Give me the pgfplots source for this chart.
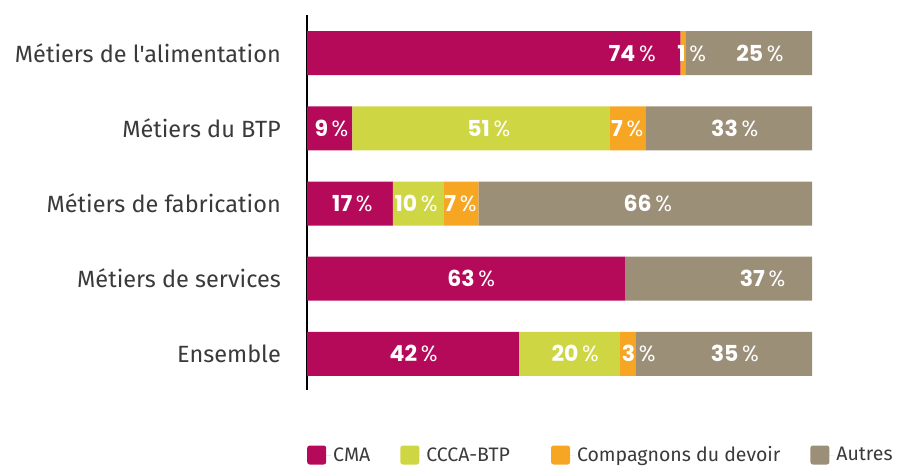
\documentclass[border=0pt]{standalone}
\usepackage{pgfplots}
\pgfplotsset{compat=1.18}
\usepackage{fontspec}
\setmainfont{Fira Sans}
\newfontfamily\catfont{Fira Sans}
\newfontfamily\numfont{Poppins}
\definecolor{cma}{HTML}{B5095A}
\definecolor{ccca}{HTML}{CFD643}
\definecolor{comp}{HTML}{F6A623}
\definecolor{autres}{HTML}{9C8F78}
\definecolor{txt}{HTML}{3A3A3A}
\newcommand\pct[1]{\textcolor{white}{\numfont\fontsize{22bp}{22bp}\selectfont\textbf{#1}\,\%}}
\pgfplotsset{sqlegend/.style={legend image code/.code={\fill[##1, rounded corners=2.5bp] (0bp,-9.5bp) rectangle (19bp,9.5bp); \path (0bp,0bp) -- (24bp,0bp);}}}
\begin{document}
\begin{tikzpicture}
\useasboundingbox (0,0) rectangle (897bp,466bp);
\begin{axis}[
  at={(307bp,76bp)}, anchor=south west,
  scale only axis, width=505bp, height=375bp,
  xmin=0, xmax=100, ymin=-0.507, ymax=4.48, y dir=reverse,
  bar width=44bp,
  axis x line=none, axis y line=left,
  y axis line style={-, line width=1.5bp, black},
  ytick={0,1,2,3,4},
  yticklabels={M\'etiers de l'alimentation, M\'etiers du BTP, M\'etiers de fabrication, M\'etiers de services, Ensemble},
  major tick length=0pt, ytick style={draw=none},
  yticklabel style={font=\catfont\fontsize{23.5bp}{26bp}\selectfont, text=txt, inner sep=0pt, xshift=-26bp},
  legend style={at={(axis description cs:0,0)}, anchor=west, yshift=-65bp, draw=none, fill=none, inner sep=0pt,
    font=\catfont\fontsize{19.5bp}{22bp}\selectfont, text=txt},
  legend columns=-1,
]
\addplot[xbar stacked, sqlegend, fill=cma, draw=none] coordinates {(74,0) (9,1) (17,2) (63,3) (42,4)};
\addlegendentry{CMA\rule{28bp}{0pt}}
\addplot[xbar stacked, sqlegend, fill=ccca, draw=none] coordinates {(0,0) (51,1) (10,2) (0,3) (20,4)};
\addlegendentry{CCCA-BTP\rule{39bp}{0pt}}
\addplot[xbar stacked, sqlegend, fill=comp, draw=none] coordinates {(1,0) (7,1) (7,2) (0,3) (3,4)};
\addlegendentry{Compagnons du devoir\rule{28bp}{0pt}}
\addplot[xbar stacked, sqlegend, fill=autres, draw=none] coordinates {(25,0) (33,1) (66,2) (37,3) (35,4)};
\addlegendentry{Autres}
\addplot[sharp plot, draw=none, stack plots=false, forget plot,
  point meta=explicit symbolic,
  nodes near coords={\pct{\pgfplotspointmeta}},
  nodes near coords style={anchor=center, inner sep=0pt}]
  coordinates {
  (64.4,0) [74] (76.2,0) [1] (89.7,0) [25]
  (4.85,1) [9] (36.0,1) [51] (63.4,1) [7] (84.7,1) [33]
  (9.0,2) [17] (21.6,2) [10] (30.4,2) [7] (67.5,2) [66]
  (32.5,3) [63] (90.2,3) [37]
  (21.1,4) [42] (53.1,4) [20] (65.7,4) [3] (84.7,4) [35]
  };
\end{axis}
\end{tikzpicture}
\end{document}
